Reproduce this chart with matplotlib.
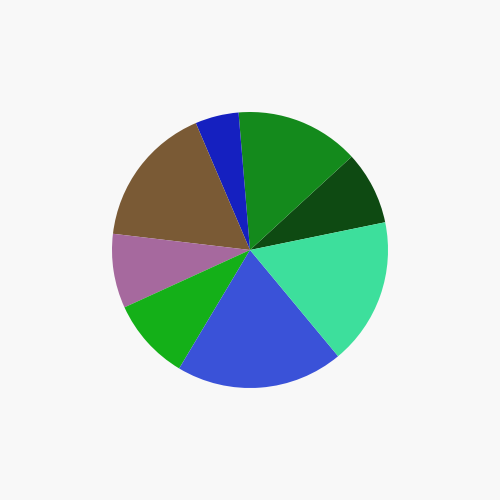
import matplotlib
matplotlib.use("Agg")
import matplotlib.pyplot as plt

# slice shares (percent), counterclockwise from the dark green wedge
labels = ["Dark green", "Green", "Navy", "Brown", "Mauve", "Lime", "Blue", "Mint"]
shares = [8.6, 14.5, 5.1, 16.7, 8.7, 9.6, 19.6, 17.2]
colors = ["#0e4a12", "#148a1c", "#1520c0", "#7a5a35", "#a6699e",
          "#14b018", "#3a52d8", "#3ddf9c"]

fig = plt.figure(figsize=(5, 5), dpi=100, facecolor="#f8f8f8")
ax = fig.add_axes([0.224, 0.224, 0.552, 0.552])
ax.set_facecolor("#f8f8f8")

ax.pie(shares, colors=colors, startangle=11.6, counterclock=True,
       wedgeprops={"linewidth": 0})
ax.set_xlim(-1, 1)
ax.set_ylim(-1, 1)
ax.set_aspect("equal")
ax.axis("off")

fig.savefig("out.png", dpi=100, facecolor=fig.get_facecolor())
